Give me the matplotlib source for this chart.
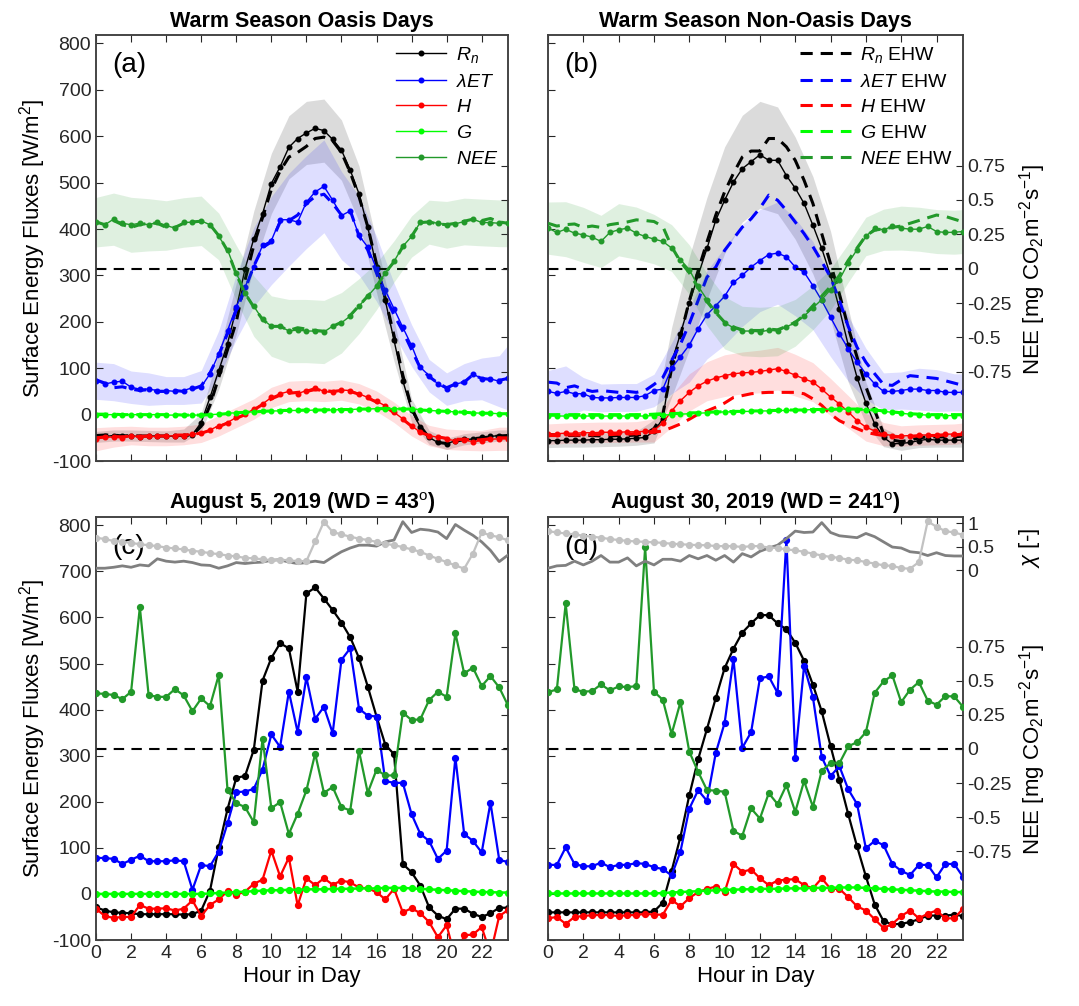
"""
Four-panel diurnal flux figure: ensemble mean oasis / non-oasis days (a, b)
with EHW reruns, and two single days (c, d) with the chi footprint lines.
Output: out.png
"""

import matplotlib
matplotlib.use("Agg")
import matplotlib.pyplot as plt
import numpy as np

plt.rcParams["font.family"] = ["Liberation Sans", "DejaVu Sans"]
plt.rcParams["mathtext.fontset"] = "custom"
plt.rcParams["mathtext.rm"] = "Liberation Sans"
plt.rcParams["mathtext.it"] = "Liberation Sans:italic"
plt.rcParams["mathtext.bf"] = "Liberation Sans:bold"
plt.rcParams["axes.unicode_minus"] = False

# ---------------------------------------------------------------- data
HOURS = np.arange(0, 24, 0.5)
BAND_IDX = list(range(0, 48, 2)) + [47]      # hourly points used for the spread bands

X_TICKS = [0, 2, 4, 6, 8, 10, 12, 14, 16, 18, 20, 22]
W_TICKS = [-100, 0, 100, 200, 300, 400, 500, 600, 700, 800]
NEE_TICKS = [-0.75, -0.5, -0.25, 0, 0.25, 0.5, 0.75]
NEE_TICK_LABELS = ["-0.75", "-0.5", "-0.25", "0", "0.25", "0.5", "0.75"]
CHI_TICKS = [0, 0.5, 1]
CHI_TICK_LABELS = ["0", "0.5", "1"]

TITLES = ["Warm Season Oasis Days", "Warm Season Non-Oasis Days",
          "August 5, 2019 (WD = 43$^{\\rm o}$)", "August 30, 2019 (WD = 241$^{\\rm o}$)"]
PANEL_TAGS = ["(a)", "(b)", "(c)", "(d)"]
LEGEND_A = ["$R_n$", "$\\lambda ET$", "$H$", "$G$", "$NEE$"]
LEGEND_B = ["$R_n$ EHW", "$\\lambda ET$ EHW", "$H$ EHW", "$G$ EHW", "$NEE$ EHW"]

# (a) oasis days, mean
A_RN = [-48, -47, -45, -47, -45, -48, -46, -46, -47, -46, -45, -43,
        -17, 37, 95, 153, 228, 314, 379, 433, 498, 534, 576,
        595, 607, 617, 612, 593, 570, 527, 476, 404, 318, 246, 160, 73, 9, -27,
        -49, -60, -63, -56, -53, -53, -49, -47, -45, -45]
A_ET = [73, 66, 70, 72, 59, 55, 55, 52, 52, 50, 52, 58,
        60, 88, 131, 181, 232, 275, 318, 365, 375, 420, 420,
        415, 458, 480, 492, 462, 429, 439, 386, 361, 314, 268, 228, 188, 149, 102,
        84, 66, 55, 66, 70, 88, 77, 77, 72, 80]
A_H = [-53, -49, -48, -50, -45, -49, -47, -47, -47, -45, -45, -42,
       -40, -33, -24, -17, -6, 1, 12, 23, 37, 45, 50,
       45, 52, 58, 50, 48, 53, 52, 45, 37, 29, 19, 5, -9, -24, -38,
       -45, -49, -53, -56, -55, -58, -56, -53, -52, -52]
A_G = [0, 0, 0, 0, 0, 0, 0, 0, -1, -1, -1, -1,
       -1, 0, 1, 3, 4, 5, 6, 7, 8, 8, 9,
       9, 9, 10, 10, 10, 11, 11, 12, 12, 13, 13, 13, 12, 12, 11,
       9, 8, 7, 6, 5, 4, 3, 3, 2, 2]
A_NEE = [0.338, 0.319, 0.36, 0.331, 0.319, 0.331, 0.319, 0.338, 0.314, 0.295, 0.336, 0.338,
         0.348, 0.319, 0.234, 0.138, -0.031, -0.176, -0.273, -0.37, -0.418, -0.418, -0.454,
         -0.447, -0.454, -0.454, -0.461, -0.418, -0.394, -0.345, -0.273, -0.2, -0.128, -0.031,
         0.053, 0.162, 0.234, 0.338, 0.338, 0.331, 0.319, 0.326, 0.343, 0.36, 0.336, 0.335,
         0.33, 0.33]
A_RN_EHW = [-45, -44, -44, -46, -45, -46, -46, -46, -46, -45, -45, -44,
            -25, 20, 80, 140, 200, 290, 365, 425, 485, 525, 555,
            565, 578, 595, 598, 590, 565, 522, 470, 405, 325, 250, 170, 85, 15, -25,
            -50, -60, -62, -57, -54, -52, -50, -48, -46, -45]
A_ET_EHW = [75, 68, 58, 60, 55, 52, 54, 50, 50, 52, 50, 55,
            62, 90, 128, 175, 225, 270, 320, 360, 372, 415, 418,
            430, 455, 470, 475, 455, 430, 440, 385, 355, 305, 255, 215, 180, 140, 100,
            82, 68, 58, 66, 70, 86, 78, 76, 74, 78]
A_H_EHW = [-50, -48, -47, -48, -46, -47, -46, -46, -46, -44, -44, -42,
           -40, -34, -26, -18, -8, 0, 10, 22, 34, 42, 46,
           48, 50, 54, 52, 50, 52, 50, 44, 36, 27, 17, 4, -10, -25, -38,
           -45, -48, -51, -53, -53, -55, -54, -52, -50, -50]
A_G_EHW = [1, 1, 1, 0, 0, 0, 0, 0, 0, 0, -1, -1,
           -1, 0, 1, 2, 4, 5, 6, 7, 8, 9, 9,
           9, 10, 10, 10, 11, 11, 11, 12, 12, 13, 13, 13, 12, 12, 10,
           9, 8, 7, 6, 5, 4, 3, 3, 2, 2]
A_NEE_EHW = [0.34, 0.32, 0.35, 0.32, 0.3, 0.32, 0.33, 0.33, 0.3, 0.3, 0.33, 0.34,
             0.345, 0.32, 0.24, 0.13, -0.04, -0.18, -0.28, -0.37, -0.42, -0.42, -0.45,
             -0.43, -0.44, -0.45, -0.455, -0.42, -0.39, -0.34, -0.27, -0.2, -0.13, -0.03,
             0.05, 0.16, 0.235, 0.335, 0.34, 0.325, 0.32, 0.33, 0.345, 0.36, 0.35, 0.365,
             0.34, 0.33]
# hourly spread (+/-) for the shaded bands, 0..23 h and 23.5 h
A_RN_SD = [12, 12, 12, 12, 12, 14, 20, 40, 55, 60, 65, 68, 68, 68, 65, 60, 55, 45, 25, 15,
           12, 12, 12, 12, 12]
A_ET_SD = [40, 40, 35, 35, 30, 30, 35, 50, 70, 85, 95, 100, 100, 100, 95, 85, 70, 55, 45, 35,
           35, 40, 45, 55, 70]
A_H_SD = [25, 22, 20, 20, 20, 20, 20, 22, 22, 22, 22, 22, 22, 22, 22, 22, 22, 22, 22, 22,
          22, 22, 22, 25, 25]
A_NEE_SD = [0.18, 0.19, 0.2, 0.19, 0.18, 0.18, 0.18, 0.17, 0.2, 0.22, 0.22, 0.23, 0.23, 0.23,
            0.22, 0.2, 0.17, 0.15, 0.15, 0.16, 0.17, 0.17, 0.17, 0.17, 0.17]

# (b) non-oasis days, mean
B_RN = [-56, -56, -55, -55, -55, -54, -54, -53, -53, -52, -51, -49,
        -36, -9, 113, 174, 240, 300, 358, 419, 462, 501, 530,
        545, 560, 548, 548, 515, 488, 455, 408, 358, 300, 228, 150, 80, 25, -20,
        -49, -63, -62, -60, -56, -53, -55, -55, -55, -55]
B_ET = [50, 46, 50, 45, 45, 37, 36, 36, 37, 37, 37, 41,
        52, 55, 100, 125, 150, 185, 215, 235, 255, 285, 300,
        318, 332, 345, 348, 340, 318, 307, 278, 246, 210, 174, 142, 113, 88, 66,
        50, 50, 52, 55, 55, 52, 52, 48, 48, 48]
B_H = [-42, -41, -40, -40, -39, -39, -38, -38, -38, -37, -37, -36,
       -34, -18, 8, 30, 48, 62, 72, 79, 84, 88, 90,
       91, 93, 96, 99, 93, 85, 77, 70, 55, 38, 23, 6, -13, -27, -35,
       -42, -45, -46, -45, -44, -44, -43, -42, -42, -40]
B_G = [-3, -3, -3, -3, -3, -3, -3, -3, -3, -3, -3, -3,
       -2, -1, 0, 1, 2, 3, 4, 5, 6, 6, 7,
       7, 8, 8, 9, 9, 10, 10, 11, 11, 12, 12, 12, 11, 10, 9,
       7, 5, 3, 1, 0, -1, -2, -2, -2, -2]
B_NEE = [0.295, 0.263, 0.287, 0.258, 0.246, 0.229, 0.198, 0.263, 0.283, 0.295, 0.258, 0.234,
         0.215, 0.198, 0.15, 0.065, -0.007, -0.128, -0.225, -0.309, -0.394, -0.43, -0.454,
         -0.454, -0.461, -0.447, -0.454, -0.423, -0.394, -0.345, -0.285, -0.225, -0.152, -0.08,
         0.041, 0.138, 0.234, 0.295, 0.283, 0.307, 0.295, 0.287, 0.287, 0.307, 0.27, 0.263,
         0.265, 0.27]
B_RN_EHW = [-43, -44, -45, -45, -45, -45, -46, -46, -45, -45, -44, -42,
            -30, 0, 100, 170, 245, 310, 372, 430, 480, 520, 555,
            568, 568, 595, 595, 577, 548, 505, 455, 390, 325, 260, 188, 124, 60, 9,
            -41, -55, -58, -55, -50, -48, -48, -48, -48, -46]
B_ET_EHW = [70, 68, 58, 62, 55, 50, 52, 50, 48, 50, 48, 52,
            65, 80, 117, 152, 196, 246, 296, 318, 354, 379, 404,
            422, 445, 473, 462, 440, 415, 390, 362, 330, 296, 246, 190, 145, 113, 88,
            65, 63, 75, 84, 82, 80, 78, 73, 68, 63]
B_H_EHW = [-45, -45, -44, -44, -44, -43, -43, -43, -42, -42, -41, -40,
           -38, -35, -28, -20, -10, 1, 8, 16, 25, 37, 41,
           45, 47, 48, 48, 48, 48, 45, 34, 20, 1, -13, -22, -30, -38, -42,
           -45, -48, -48, -47, -46, -45, -45, -44, -44, -43]
B_G_EHW = [0, 0, 0, 0, 0, 0, 0, 0, 0, 0, 0, 0,
           1, 2, 2, 3, 4, 4, 5, 6, 6, 7, 7,
           8, 8, 9, 9, 10, 10, 10, 11, 11, 11, 12, 12, 12, 11, 10,
           8, 6, 4, 2, 1, 0, 0, 0, 0, 0]
B_NEE_EHW = [0.33, 0.31, 0.32, 0.325, 0.3, 0.31, 0.3, 0.32, 0.33, 0.34, 0.355, 0.35,
             0.343, 0.307, 0.16, 0.05, -0.03, -0.14, -0.24, -0.32, -0.39, -0.425, -0.445,
             -0.45, -0.45, -0.44, -0.445, -0.42, -0.39, -0.34, -0.27, -0.2, -0.13, -0.05,
             0.06, 0.15, 0.24, 0.28, 0.29, 0.3, 0.31, 0.33, 0.35, 0.37, 0.39, 0.38, 0.36, 0.34]
B_RN_SD = [15, 15, 15, 15, 15, 15, 25, 75, 100, 110, 115, 115, 115, 115, 110, 105, 95, 80,
           45, 20, 15, 15, 15, 15, 15]
B_ET_SD = [45, 55, 35, 30, 30, 30, 35, 55, 80, 95, 105, 110, 110, 110, 105, 95, 85, 70, 55,
           40, 40, 45, 45, 40, 40]
B_H_SD = [22, 22, 22, 22, 22, 22, 25, 35, 40, 42, 45, 45, 46, 46, 45, 42, 40, 35, 30, 25,
          22, 22, 22, 22, 22]
B_NEE_SD = [0.19, 0.2, 0.2, 0.19, 0.19, 0.19, 0.18, 0.17, 0.18, 0.19, 0.19, 0.18, 0.18, 0.18,
            0.17, 0.16, 0.15, 0.14, 0.14, 0.15, 0.16, 0.16, 0.16, 0.16, 0.16]

# (c) August 5, 2019
C_RN = [-29, -36, -40, -41, -42, -44, -44, -44, -44, -44, -45, -44,
        -36, 7, 101, 184, 252, 256, 313, 463, 512, 544, 533,
        439, 652, 665, 641, 616, 589, 557, 512, 450, 385, 324, 303, 65, 47, 18,
        -29, -47, -55, -32, -32, -43, -50, -42, -30, -30]
C_ET = [78, 78, 76, 65, 74, 83, 71, 71, 71, 73, 71, 9,
        63, 60, 92, 153, 221, 222, 228, 270, 346, 319, 439,
        351, 470, 380, 406, 349, 508, 533, 402, 387, 385, 245, 241, 241, 173, 130,
        115, 76, 94, 296, 130, 115, 90, 198, 74, 69]
C_H = [-32, -48, -52, -50, -50, -24, -32, -32, -31, -36, -32, -14,
       -48, -24, -12, 6, -2, 5, 22, 31, 94, 38, 79,
       -25, 34, 19, 34, 20, 29, 25, 14, 12, 4, -12, 11, -40, -31, -42,
       -61, -94, -68, -140, -90, -88, -72, -130, -48, -35]
C_G = [0, 0, 0, 0, 0, 0, 0, 0, 0, 0, 0, 0,
       0, 1, 2, 3, 4, 5, 6, 7, 8, 8, 9,
       9, 10, 10, 10, 11, 11, 11, 12, 12, 12, 13, 13, 13, 12, 11,
       10, 9, 8, 7, 6, 5, 4, 4, 3, 3]
C_NEE = [0.407, 0.404, 0.395, 0.365, 0.419, 1.039, 0.395, 0.382, 0.382, 0.439, 0.392, 0.277,
         0.37, 0.314, 0.542, -0.299, -0.397, -0.426, -0.537, 0.076, -0.434, -0.39, -0.623,
         -0.475, -0.304, -0.034, -0.321, -0.279, -0.426, -0.451, -0.015, -0.321, -0.152,
         -0.194, -0.194, 0.267, 0.211, 0.218, 0.358, 0.419, 0.382, 0.848, 0.554, 0.596,
         0.461, 0.534, 0.451, 0.319]
C_CHI_LIGHT = [0.69, 0.66, 0.62, 0.60, 0.58, 0.55, 0.53, 0.51, 0.48, 0.46, 0.44, 0.41,
               0.39, 0.36, 0.34, 0.31, 0.29, 0.26, 0.25, 0.23, 0.21, 0.22, 0.21,
               0.19, 0.19, 0.61, 1.03, 0.81, 0.76, 0.71, 0.67, 0.64, 0.60, 0.56, 0.53, 0.49,
               0.44, 0.39, 0.31, 0.24, 0.17, 0.10, 0.03, 0.35, 0.80, 0.74, 0.70, 0.63]
C_CHI_DARK = [0.04, 0.04, 0.06, 0.09, 0.06, 0.11, 0.09, 0.24, 0.19, 0.17, 0.19, 0.16,
              0.11, 0.10, 0.04, 0.09, 0.16, 0.14, 0.16, 0.17, 0.21, 0.22, 0.17,
              0.14, 0.16, 0.19, 0.16, 0.28, 0.39, 0.47, 0.53, 0.53, 0.51, 0.60, 0.64, 1.03,
              0.80, 0.87, 0.85, 0.81, 0.67, 0.97, 0.85, 0.74, 0.60, 0.42, 0.18, 0.32]

# (d) August 30, 2019
D_RN = [-40, -40, -40, -40, -40, -40, -40, -40, -40, -40, -40, -40,
        -38, -19, 50, 124, 214, 292, 358, 425, 490, 532, 567,
        587, 605, 605, 587, 574, 545, 506, 454, 396, 321, 247, 173, 103, 38, -23,
        -59, -66, -65, -61, -55, -47, -47, -47, -45, -48]
D_ET = [63, 63, 101, 65, 60, 60, 68, 58, 63, 63, 67, 65,
        58, 54, 40, 92, 185, 225, 202, 306, 371, 510, 317,
        351, 468, 472, 436, 769, 295, 495, 427, 297, 256, 277, 227, 195, 99, 115,
        106, 65, 50, 41, 63, 63, 36, 65, 65, 37]
D_H = [-53, -50, -65, -50, -48, -46, -46, -46, -48, -46, -46, -43,
       -45, -45, -13, -27, -9, 4, 11, 16, 4, 65, 48,
       53, 34, 19, 29, 31, 32, 19, 12, 34, 11, 11, -7, -27, -36, -55,
       -74, -65, -48, -36, -53, -43, -36, -53, -53, -32]
D_G = [1, 1, 1, 1, 1, 1, 1, 1, 1, 1, 1, 1,
       1, 2, 3, 4, 5, 6, 7, 8, 9, 9, 10,
       10, 11, 11, 11, 12, 12, 12, 13, 13, 13, 14, 14, 14, 13, 12,
       11, 10, 9, 8, 7, 6, 5, 5, 4, 4]
D_NEE = [0.417, 0.436, 1.066, 0.436, 0.42, 0.424, 0.473, 0.429, 0.458, 0.453, 0.461, 1.478,
         0.42, 0.36, 0.11, 0.343, -0.02, -0.167, -0.301, -0.306, -0.314, -0.6, -0.637,
         -0.436, -0.51, -0.324, -0.404, -0.265, -0.461, -0.235, -0.424, -0.159, -0.105,
         -0.105, 0.02, 0.049, 0.123, 0.412, 0.495, 0.539, 0.343, 0.434, 0.49, 0.355, 0.324,
         0.387, 0.385, 0.309]
D_CHI_LIGHT = [0.83, 0.80, 0.78, 0.76, 0.73, 0.71, 0.69, 0.66, 0.64, 0.62, 0.61, 0.60,
               0.59, 0.58, 0.56, 0.55, 0.54, 0.53, 0.53, 0.51, 0.51, 0.51, 0.49,
               0.51, 0.51, 0.48, 0.47, 0.44, 0.42, 0.39, 0.35, 0.31, 0.28, 0.26, 0.22, 0.21,
               0.17, 0.14, 0.10, 0.09, 0.04, 0.03, 0.17, 1.04, 0.92, 0.83, 0.80, 0.75]
D_CHI_DARK = [0.04, 0.09, 0.10, 0.19, 0.11, 0.19, 0.31, 0.17, 0.17, 0.26, 0.09, 0.19,
              0.11, 0.23, 0.23, 0.19, 0.31, 0.24, 0.31, 0.21, 0.31, 0.17, 0.35,
              0.28, 0.40, 0.47, 0.53, 0.67, 0.83, 0.80, 0.81, 1.01, 0.80, 0.73, 0.71, 0.69,
              0.78, 0.71, 0.60, 0.49, 0.47, 0.39, 0.37, 0.31, 0.37, 0.31, 0.30, 0.30]

# ---------------------------------------------------------------- style
COL_RN, COL_ET, COL_H, COL_G, COL_NEE = "black", "#0000ff", "#ff0000", "#00ff00", "#22992a"
COL_CHI_L, COL_CHI_D = "#c2c2c2", "#808080"
BOX = "#404040"
W_LIM = (-100, 818)
NEE_LIM = (-1.4, 1.7)
CHI_LIM = (-7.87, 1.13)
EHW_DASH = (0, (4, 2.6))
TICK_SIZE = 14
LABEL_SIZE = 16

fig = plt.figure(figsize=(10.79, 10.06), dpi=100)
POS = [[0.089, 0.5417, 0.3818, 0.4235], [0.5079, 0.5417, 0.3846, 0.4235],
       [0.089, 0.0656, 0.3818, 0.4205], [0.5079, 0.0656, 0.3846, 0.4205]]
axes = [fig.add_axes(p) for p in POS]


def band(ax, y, sd, color, alpha):
    y = np.asarray(y, dtype=float)[BAND_IDX]
    sd = np.asarray(sd, dtype=float)
    ax.fill_between(HOURS[BAND_IDX], y - sd, y + sd, color=color, alpha=alpha, lw=0)


def frame(ax, i):
    ax.set_xlim(0, 23.5)
    ax.set_ylim(*W_LIM)
    ax.set_xticks(X_TICKS)
    ax.set_yticks(W_TICKS)
    ax.tick_params(direction="in", length=5, width=0.8, top=True, right=False,
                   labelsize=TICK_SIZE, colors="#262626",
                   labelbottom=(i >= 2), labelleft=(i % 2 == 0))
    for s in ax.spines.values():
        s.set_color(BOX)
        s.set_linewidth(1.1)
    if i % 2 == 0:
        ax.set_ylabel("Surface Energy Fluxes [W/m$^2$]", fontsize=LABEL_SIZE, labelpad=3)
    if i >= 2:
        ax.set_xlabel("Hour in Day", fontsize=LABEL_SIZE, labelpad=3)
    ax.set_title(TITLES[i], fontsize=15.5, fontweight="bold", pad=6)
    ax.text(0.04, 0.93, PANEL_TAGS[i], transform=ax.transAxes, fontsize=20,
            va="center", ha="left", zorder=10)


def nee_axis(ax, i):
    ax2 = ax.twinx()
    ax2.set_ylim(*NEE_LIM)
    ax2.set_yticks(NEE_TICKS)
    ax2.set_yticklabels(NEE_TICK_LABELS)
    ax2.tick_params(direction="in", length=5, width=0.8, labelsize=TICK_SIZE, colors="#262626",
                    labelright=(i % 2 == 1), pad=3)
    for s in ax2.spines.values():
        s.set_color(BOX)
        s.set_linewidth(1.1)
    ax2.axhline(0, color="black", lw=1.5, ls=(0, (5, 3.5)), zorder=1)
    if i % 2 == 1:
        ax2.set_ylabel("NEE [mg CO$_2$m$^{-2}$s$^{-1}$]", fontsize=LABEL_SIZE)
        ax2.yaxis.set_label_coords(1.13, 0.45)
    return ax2


def mean_panel(ax, i, solid, ehw, sds, nee, nee_ehw, nee_sd):
    frame(ax, i)
    colors = [COL_RN, COL_ET, COL_H, COL_G]
    band(ax, solid[0], sds[0], "#9a9a9a", 0.35)
    band(ax, solid[1], sds[1], COL_ET, 0.13)
    band(ax, solid[2], sds[2], COL_H, 0.13)
    solid_h, dash_h = [], []
    for y, y2, c in zip(solid, ehw, colors):
        h, = ax.plot(HOURS, y, color=c, lw=1.0, marker="o", ms=3.3, zorder=3)
        d, = ax.plot(HOURS, y2, color=c, lw=2.2, ls=EHW_DASH, zorder=3)
        solid_h.append(h)
        dash_h.append(d)
    ax2 = nee_axis(ax, i)
    band(ax2, nee, nee_sd, COL_NEE, 0.14)
    h, = ax2.plot(HOURS, nee, color=COL_NEE, lw=1.0, marker="o", ms=3.3, zorder=3)
    d, = ax2.plot(HOURS, nee_ehw, color=COL_NEE, lw=2.2, ls=EHW_DASH, zorder=3)
    solid_h.append(h)
    dash_h.append(d)
    return ax2, solid_h, dash_h


def day_panel(ax, i, rn, et, h, g, nee, chi_l, chi_d):
    frame(ax, i)
    for y, c in zip([rn, et, h], [COL_RN, COL_ET, COL_H]):
        ax.plot(HOURS, y, color=c, lw=1.6, marker="o", ms=4.2, zorder=3)
    ax.plot(HOURS, g, color=COL_G, lw=1.8, marker="o", ms=4.2, zorder=3)
    ax2 = nee_axis(ax, i)
    ax2.plot(HOURS, nee, color=COL_NEE, lw=1.6, marker="o", ms=4.2, zorder=3)
    ax3 = ax.twinx()
    ax3.set_ylim(*CHI_LIM)
    ax3.plot(HOURS, chi_d, color=COL_CHI_D, lw=2.0)
    ax3.plot(HOURS, chi_l, color=COL_CHI_L, lw=1.6, marker="o", ms=4.2)
    for s in ax3.spines.values():
        s.set_visible(False)
    if i % 2 == 1:
        ax3.set_yticks(CHI_TICKS)
        ax3.set_yticklabels(CHI_TICK_LABELS)
        ax3.tick_params(direction="in", length=5, width=0.8, labelsize=TICK_SIZE,
                        colors="#262626", pad=3)
        ax3.set_ylabel("$\\chi$ [-]", fontsize=LABEL_SIZE)
        ax3.yaxis.set_label_coords(1.13, 0.927)
    else:
        ax3.set_yticks([])


axA, hA, _ = mean_panel(axes[0], 0, [A_RN, A_ET, A_H, A_G],
                        [A_RN_EHW, A_ET_EHW, A_H_EHW, A_G_EHW],
                        [A_RN_SD, A_ET_SD, A_H_SD], A_NEE, A_NEE_EHW, A_NEE_SD)
axB, _, dB = mean_panel(axes[1], 1, [B_RN, B_ET, B_H, B_G],
                        [B_RN_EHW, B_ET_EHW, B_H_EHW, B_G_EHW],
                        [B_RN_SD, B_ET_SD, B_H_SD], B_NEE, B_NEE_EHW, B_NEE_SD)
day_panel(axes[2], 2, C_RN, C_ET, C_H, C_G, C_NEE, C_CHI_LIGHT, C_CHI_DARK)
day_panel(axes[3], 3, D_RN, D_ET, D_H, D_G, D_NEE, D_CHI_LIGHT, D_CHI_DARK)

leg_kw = dict(loc="upper right", frameon=False, fontsize=14, handlelength=2.6,
              handletextpad=0.5, labelspacing=0.42, borderaxespad=0.3, borderpad=0.2)
axA.legend(hA, LEGEND_A, **leg_kw).set_zorder(20)
axB.legend(dB, LEGEND_B, **leg_kw).set_zorder(20)

fig.savefig("out.png", dpi=100)
